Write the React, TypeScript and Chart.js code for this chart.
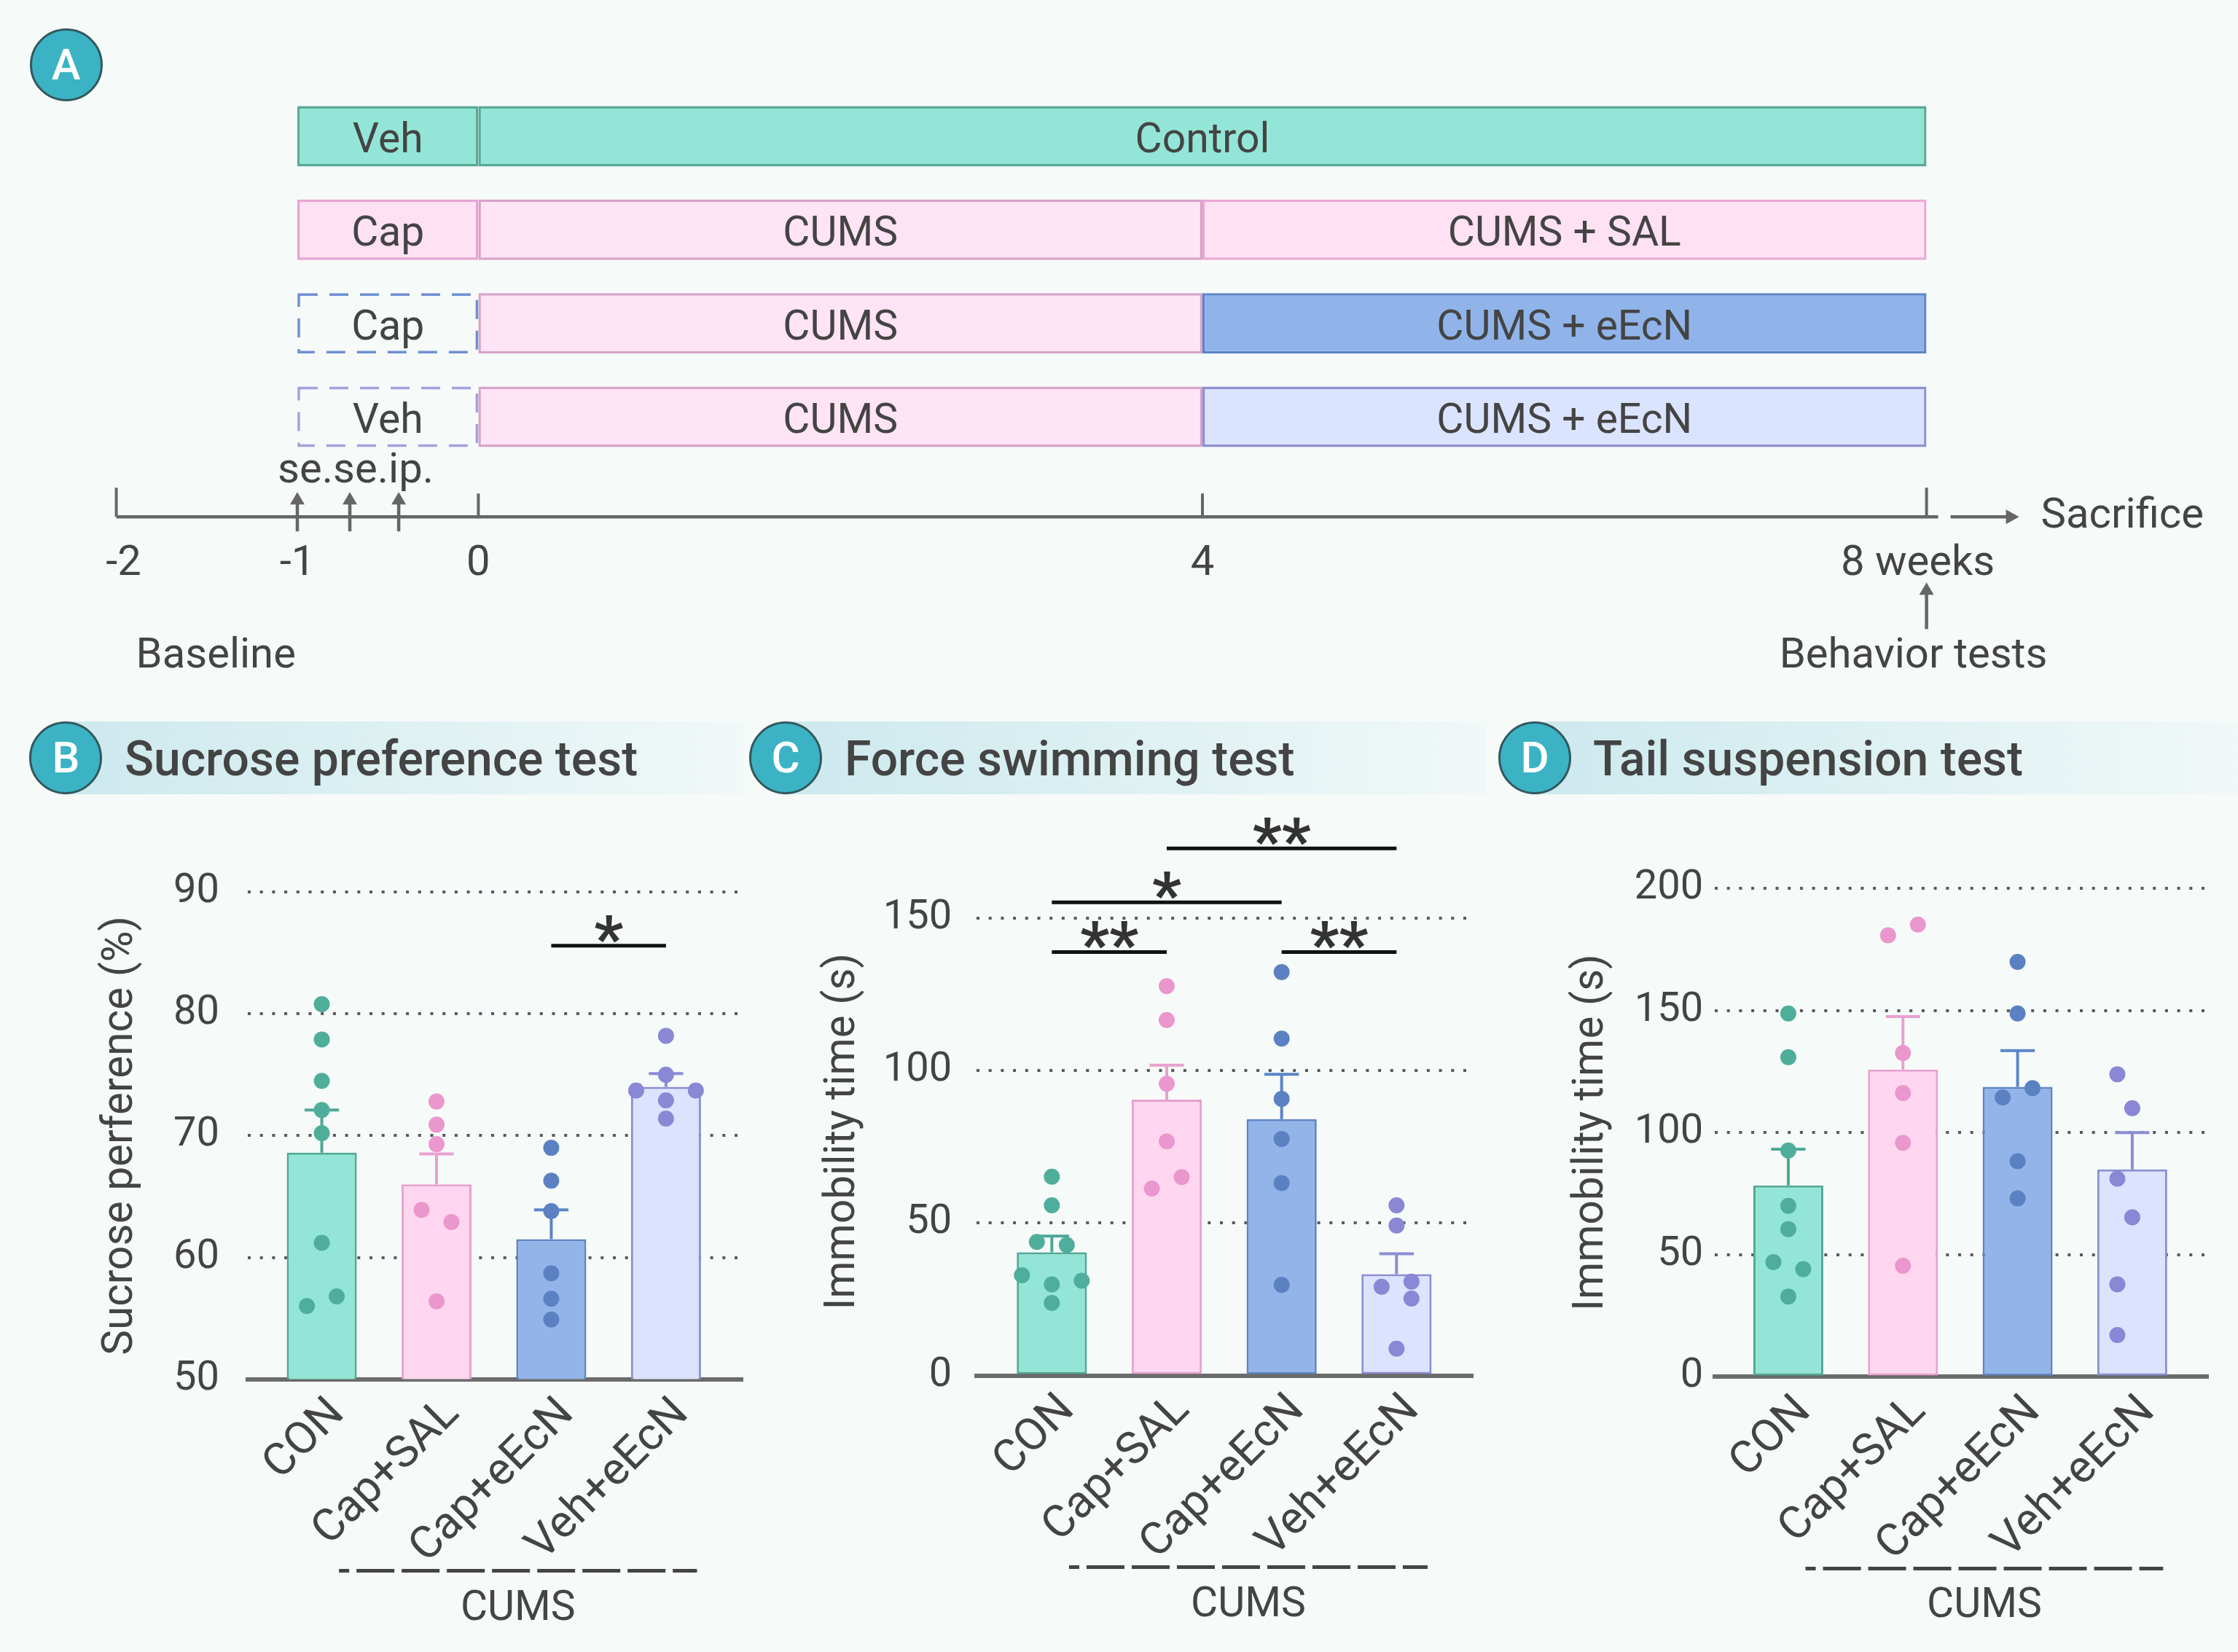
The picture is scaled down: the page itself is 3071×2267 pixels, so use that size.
import React, { useEffect, useRef } from 'react';
import { Chart, registerables } from 'chart.js';

Chart.register(...registerables);

const FONT = 'Roboto';
const TEXT = '#444444';
const BG = '#f6faf9';

// ---------------- Panel A (timeline) data ----------------
const rowNames = ['Control', 'Cap+SAL', 'Cap+eEcN', 'Veh+eEcN'];
const preWeeks = [[-1, 0], [-1, 0], [-1, 0], [-1, 0]];
const preLabels = ['Veh', 'Cap', 'Cap', 'Veh'];
const preDashed = [false, false, true, true];
const phase1Weeks = [[0, 8], [0, 4], [0, 4], [0, 4]];
const phase1Labels = ['Control', 'CUMS', 'CUMS', 'CUMS'];
const phase2Weeks = [null, [4, 8], [4, 8], [4, 8]];
const phase2Labels = ['', 'CUMS + SAL', 'CUMS + eEcN', 'CUMS + eEcN'];
const timelineTicks = [-2, -1, 0, 4, 8];
const timelineTickLabels = ['-2', '-1', '0', '4', '8 weeks'];
const timelineTickMarks = [-2, 0, 4, 8];
const injectionWeeks = [-1, -0.71, -0.44];
const weekMin = -2;
const weekMax = 8;

// ---------------- Panels B-D data ----------------
const groups = ['CON', 'Cap+SAL', 'Cap+eEcN', 'Veh+eEcN'];

// B: Sucrose preference
const spMean = [68.6, 66.0, 61.5, 74.0];
const spSem = [3.5, 2.5, 2.4, 1.1];
const spCON = [80.8, 77.9, 74.5, 72.1, 70.2, 61.2, 56.0, 56.8];
const spCapSAL = [72.8, 70.9, 69.3, 63.9, 62.9, 56.4];
const spCapEcN = [69.0, 66.3, 63.8, 58.7, 56.6, 54.9];
const spVehEcN = [78.2, 75.0, 73.7, 73.7, 72.9, 71.4];
const spSlots = [[0, 0, 0, 0, 0, 0, -1, 1], [0, 0, 0, -1, 1, 0], [0, 0, 0, 0, 0, 0], [0, 0, -2, 2, 0, 0]];
const spTicks = [50, 60, 70, 80, 90];

// C: Forced swimming
const fstMean = [40.4, 90.5, 84.1, 33.2];
const fstSem = [5.3, 11.3, 14.7, 6.7];
const fstCON = [65.2, 55.8, 43.8, 42.8, 32.9, 31.1, 29.9, 23.8];
const fstCapSAL = [127.7, 116.6, 95.7, 76.8, 65.1, 61.3];
const fstCapEcN = [132.3, 110.5, 90.7, 77.6, 63.1, 29.7];
const fstVehEcN = [55.8, 49.2, 30.8, 29.1, 25.2, 8.8];
const fstSlots = [[0, 0, -1, 1, -2, 2, 0, 0], [0, 0, 0, 0, 1, -1], [0, 0, 0, 0, 0, 0], [0, 0, 1, -1, 1, 0]];
const fstTicks = [0, 50, 100, 150];

// D: Tail suspension
const tstMean = [78.4, 125.8, 118.7, 84.9];
const tstSem = [14.8, 21.7, 14.9, 15.1];
const tstCON = [148.8, 130.9, 92.7, 70.0, 60.5, 47.0, 44.1, 32.9];
const tstCapSAL = [185.2, 180.8, 132.6, 116.2, 95.8, 45.5];
const tstCapEcN = [169.9, 148.8, 118.2, 114.4, 88.3, 73.1];
const tstVehEcN = [123.9, 110.0, 81.1, 65.3, 37.9, 17.1];
const tstSlots = [[0, 0, 0, 0, 0, -1, 1, 0], [1, -1, 0, 0, 0, 0], [0, 0, 1, -1, 0, 0], [-1, 0, -1, 0, -1, -1]];
const tstTicks = [0, 50, 100, 150, 200];

// significance brackets: group index from, to, value height, label
const spBrackets = [{ from: 2, to: 3, y: 85.6, label: '*' }];
const fstBrackets = [
  { from: 0, to: 1, y: 138.9, label: '**' },
  { from: 0, to: 2, y: 155.2, label: '*' },
  { from: 1, to: 3, y: 172.9, label: '**' },
  { from: 2, to: 3, y: 138.9, label: '**' },
];
const tstBrackets: { from: number; to: number; y: number; label: string }[] = [];

// ---------------- styles ----------------
const barFill = ['#93e6d7', '#ffd6ef', '#92b4e9', '#dbe3fe'];
const barBorder = ['#4fa896', '#e8a1cf', '#5b85c7', '#8c8dd4'];
const dotColor = ['#4fae9b', '#ea97cd', '#5b81c3', '#8a87d4'];
const SLOT = 0.13;
const CAP_HALF = 0.15;

const preFill = ['#93e6d7', '#ffe1f4', 'rgba(0,0,0,0)', 'rgba(0,0,0,0)'];
const preBorder = ['#5aa898', '#e9a2d3', '#6f90d2', '#a5a0df'];
const p1Fill = ['#93e6d7', '#ffe4f5', '#ffe4f5', '#ffe4f5'];
const p1Border = ['#5aa898', '#d7a3c9', '#d7a3c9', '#d7a3c9'];
const p2Fill = ['#93e6d7', '#ffe1f4', '#90b4ea', '#dbe4fe'];
const p2Border = ['#5aa898', '#eda7d6', '#5b84c8', '#8e90d2'];

type Box = { left: number; top: number; width: number; height: number };
type Area = { left: number; top: number; right: number; bottom: number };

function ChartCanvas({ box, build }: { box: Box; build: () => any }) {
  const ref = useRef<HTMLCanvasElement>(null);
  useEffect(() => {
    if (!ref.current) return;
    const chart = new Chart(ref.current, build());
    let alive = true;
    const fonts: any = (document as any).fonts;
    if (fonts && fonts.ready) {
      fonts.ready.then(() => {
        if (alive) chart.update();
      });
    }
    return () => {
      alive = false;
      chart.destroy();
    };
  }, []);
  return (
    <canvas
      ref={ref}
      width={box.width}
      height={box.height}
      style={{ position: 'absolute', left: box.left, top: box.top, width: box.width, height: box.height }}
    />
  );
}

// ---------------- Timeline ----------------
const tlBox: Box = { left: 0, top: 0, width: 3071, height: 960 };
const tlArea: Area = { left: 159.6, top: 122.8, right: 2643.6, bottom: 636.2 };

function arrowUp(ctx: CanvasRenderingContext2D, x: number, yTip: number, yTail: number) {
  ctx.beginPath();
  ctx.moveTo(x, yTail);
  ctx.lineTo(x, yTip + 14);
  ctx.stroke();
  ctx.beginPath();
  ctx.moveTo(x, yTip);
  ctx.lineTo(x - 10, yTip + 17);
  ctx.lineTo(x + 10, yTip + 17);
  ctx.closePath();
  ctx.fill();
}

function buildTimeline() {
  const labelsByDs = [preLabels, phase1Labels, phase2Labels];
  const plugin = {
    id: 'timelineDecor',
    afterDatasetsDraw(chart: any) {
      const ctx: CanvasRenderingContext2D = chart.ctx;
      ctx.save();
      // dashed boxes
      const preMeta = chart.getDatasetMeta(0);
      preMeta.data.forEach((el: any, i: number) => {
        if (!preDashed[i]) return;
        const l = Math.min(el.x, el.base);
        const r = Math.max(el.x, el.base);
        const t = el.y - el.height / 2;
        ctx.setLineDash([26, 16]);
        ctx.lineWidth = 3.5;
        ctx.strokeStyle = preBorder[i];
        ctx.strokeRect(l + 2, t + 2, r - l - 4, el.height - 4);
      });
      ctx.setLineDash([]);
      // texts
      ctx.font = `57px ${FONT}`;
      ctx.fillStyle = TEXT;
      ctx.textAlign = 'center';
      ctx.textBaseline = 'alphabetic';
      for (let d = 0; d < 3; d++) {
        const meta = chart.getDatasetMeta(d);
        const ds = chart.data.datasets[d];
        meta.data.forEach((el: any, i: number) => {
          if (!ds.data[i] || !labelsByDs[d][i]) return;
          const cx = (el.x + el.base) / 2;
          ctx.fillText(labelsByDs[d][i], cx, el.y + 22);
        });
      }
      // axis
      const xs = chart.scales.x;
      const axisY = chart.chartArea.bottom + 73;
      ctx.strokeStyle = '#666666';
      ctx.fillStyle = '#666666';
      ctx.lineWidth = 4.5;
      ctx.beginPath();
      ctx.moveTo(xs.getPixelForValue(weekMin), axisY);
      ctx.lineTo(xs.getPixelForValue(weekMax) + 16, axisY);
      ctx.stroke();
      ctx.lineWidth = 4;
      timelineTickMarks.forEach((w) => {
        const x = xs.getPixelForValue(w);
        ctx.beginPath();
        ctx.moveTo(x, axisY);
        ctx.lineTo(x, axisY - (w === weekMin || w === weekMax ? 40 : 32));
        ctx.stroke();
      });
      ctx.lineWidth = 4.5;
      injectionWeeks.forEach((w) => arrowUp(ctx, xs.getPixelForValue(w), axisY - 34, axisY + 20));
      // behavior tests arrow
      arrowUp(ctx, xs.getPixelForValue(weekMax), axisY + 90, axisY + 154);
      // sacrifice arrow
      const sx = xs.getPixelForValue(weekMax) + 33;
      ctx.beginPath();
      ctx.moveTo(sx, axisY);
      ctx.lineTo(sx + 78, axisY);
      ctx.stroke();
      ctx.beginPath();
      ctx.moveTo(sx + 94, axisY);
      ctx.lineTo(sx + 76, axisY - 10);
      ctx.lineTo(sx + 76, axisY + 10);
      ctx.closePath();
      ctx.fill();
      // labels
      ctx.fillStyle = TEXT;
      ctx.font = `58px ${FONT}`;
      ctx.textAlign = 'center';
      timelineTicks.forEach((w, i) => {
        const dx = i === 0 ? 10 : i === timelineTicks.length - 1 ? -12 : 0;
        ctx.fillText(timelineTickLabels[i], xs.getPixelForValue(w) + dx, axisY + 80);
      });
      ctx.fillText('se.se.ip.', xs.getPixelForValue(injectionWeeks[1]) + 8, axisY - 47);
      ctx.fillText('Baseline', xs.getPixelForValue(-1.45), axisY + 207);
      ctx.fillText('Behavior tests', xs.getPixelForValue(weekMax) - 18, axisY + 207);
      ctx.textAlign = 'left';
      ctx.textBaseline = 'middle';
      ctx.fillText('Sacrifice', sx + 124, axisY);
      ctx.restore();
    },
  };
  const mk = (data: any[], fill: string[], border: string[], widths: number[]) => ({
    data,
    backgroundColor: fill,
    borderColor: border,
    borderWidth: widths,
    borderSkipped: false,
    grouped: false,
    barPercentage: 0.647,
    categoryPercentage: 1,
  });
  return {
    type: 'bar',
    data: {
      labels: rowNames,
      datasets: [
        mk(preWeeks, preFill, preBorder, preDashed.map((d) => (d ? 0 : 3.5))),
        mk(phase1Weeks, p1Fill, p1Border, [3.5, 3.5, 3.5, 3.5]),
        mk(phase2Weeks, p2Fill, p2Border, [3.5, 3.5, 3.5, 3.5]),
      ],
    },
    options: {
      indexAxis: 'y',
      responsive: false,
      animation: false,
      events: [],
      layout: {
        padding: {
          left: tlArea.left - tlBox.left,
          right: tlBox.left + tlBox.width - tlArea.right,
          top: tlArea.top - tlBox.top,
          bottom: tlBox.top + tlBox.height - tlArea.bottom,
        },
      },
      plugins: { legend: { display: false }, tooltip: { enabled: false } },
      scales: {
        x: { type: 'linear', min: weekMin, max: weekMax, display: false },
        y: { type: 'category', display: false, offset: true },
      },
    },
    plugins: [plugin],
  };
}

// ---------------- Bar panels ----------------
type Spec = {
  means: number[];
  sems: number[];
  points: number[][];
  slots: number[][];
  yMin: number;
  yMax: number;
  yTicks: number[];
  yTitle: string;
  brackets: { from: number; to: number; y: number; label: string }[];
  xMin: number;
  xMax: number;
  box: Box;
  area: Area;
  titleX: number;
  tickPad: number;
};

function buildPanel(spec: Spec) {
  const { box, area } = spec;
  const plugin = {
    id: 'panelDecor',
    afterDatasetDraw(chart: any, args: any) {
      if (args.index !== 4) return;
      const ctx: CanvasRenderingContext2D = chart.ctx;
      const xs = chart.scales.x;
      const ys = chart.scales.y;
      ctx.save();
      ctx.lineWidth = 4;
      spec.means.forEach((m, i) => {
        const x = xs.getPixelForValue(i);
        const y0 = ys.getPixelForValue(m);
        const y1 = ys.getPixelForValue(m + spec.sems[i]);
        const hw = xs.getPixelForValue(i + CAP_HALF) - x;
        ctx.strokeStyle = barBorder[i];
        ctx.beginPath();
        ctx.moveTo(x, y0);
        ctx.lineTo(x, y1);
        ctx.moveTo(x - hw, y1);
        ctx.lineTo(x + hw, y1);
        ctx.stroke();
      });
      ctx.restore();
    },
    afterDraw(chart: any) {
      const ctx: CanvasRenderingContext2D = chart.ctx;
      const xs = chart.scales.x;
      const ys = chart.scales.y;
      ctx.save();
      spec.brackets.forEach((b) => {
        const x0 = xs.getPixelForValue(b.from);
        const x1 = xs.getPixelForValue(b.to);
        const y = ys.getPixelForValue(b.y);
        ctx.strokeStyle = '#111111';
        ctx.lineWidth = 5;
        ctx.beginPath();
        ctx.moveTo(x0, y);
        ctx.lineTo(x1, y);
        ctx.stroke();
        ctx.fillStyle = '#333333';
        ctx.font = `700 88px ${FONT}`;
        ctx.textAlign = 'center';
        ctx.textBaseline = 'alphabetic';
        ctx.fillText(b.label, (x0 + x1) / 2, y + 20);
      });
      // CUMS grouping line
      const bottom = chart.chartArea.bottom;
      const gx0 = xs.getPixelForValue(0.15);
      const gx1 = xs.getPixelForValue(3.27);
      ctx.strokeStyle = TEXT;
      ctx.lineWidth = 5;
      ctx.setLineDash([52, 10]);
      ctx.lineDashOffset = 38;
      ctx.beginPath();
      ctx.moveTo(gx0, bottom + 263);
      ctx.lineTo(gx1, bottom + 263);
      ctx.stroke();
      ctx.setLineDash([]);
      ctx.fillStyle = TEXT;
      ctx.font = `57px ${FONT}`;
      ctx.textAlign = 'center';
      ctx.fillText('CUMS', (gx0 + gx1) / 2, bottom + 330);
      ctx.restore();
    },
  };
  const scatterSets = spec.points.map((vals, g) => ({
    type: 'scatter',
    data: vals.map((v, k) => ({ x: g + spec.slots[g][k] * SLOT, y: v })),
    pointRadius: 11,
    pointHoverRadius: 11,
    pointBackgroundColor: dotColor[g],
    pointBorderWidth: 0,
    showLine: false,
  }));
  const barSet = {
    type: 'bar',
    data: spec.means.map((m, i) => ({ x: i, y: m })),
    backgroundColor: barFill,
    borderColor: barBorder,
    borderWidth: 3,
    borderSkipped: false,
    barPercentage: 0.61,
    categoryPercentage: 1,
  };
  const titleFont = 58.5;
  return {
    type: 'bar',
    data: { datasets: [...scatterSets, barSet] },
    options: {
      responsive: false,
      animation: false,
      events: [],
      layout: {
        padding: {
          left: 0,
          top: area.top - box.top,
          right: box.left + box.width - area.right,
          bottom: 0,
        },
      },
      plugins: { legend: { display: false }, tooltip: { enabled: false } },
      scales: {
        x: {
          type: 'linear',
          min: spec.xMin,
          max: spec.xMax,
          offset: false,
          z: 1,
          grid: { display: false, offset: false },
          border: { display: true, color: '#6b6b6b', width: 6 },
          afterBuildTicks: (s: any) => {
            s.ticks = groups.map((_, i) => ({ value: i }));
          },
          afterFit: (s: any) => {
            s.height = box.top + box.height - area.bottom;
          },
          ticks: {
            autoSkip: false,
            minRotation: 45,
            maxRotation: 45,
            padding: 4,
            labelOffset: 22,
            color: TEXT,
            font: { family: FONT, size: 62 },
            callback: (v: any) => groups[Math.round(Number(v))] ?? '',
          },
        },
        y: {
          type: 'linear',
          min: spec.yMin,
          max: spec.yMax,
          afterBuildTicks: (s: any) => {
            s.ticks = spec.yTicks.map((v) => ({ value: v }));
          },
          afterFit: (s: any) => {
            s.width = area.left - box.left;
          },
          grid: { display: true, drawTicks: false, color: '#5a5a5a', lineWidth: 4 },
          border: { display: false, dash: [4, 12.7] },
          ticks: {
            padding: spec.tickPad,
            color: TEXT,
            font: { family: FONT, size: 56 },
          },
          title: {
            display: true,
            text: spec.yTitle,
            color: TEXT,
            font: { family: FONT, size: titleFont, lineHeight: 1.2 },
            padding: { top: spec.titleX - box.left - (titleFont * 1.2) / 2, bottom: 0 },
          },
        },
      },
    },
    plugins: [plugin],
  };
}

const specB: Spec = {
  means: spMean,
  sems: spSem,
  points: [spCON, spCapSAL, spCapEcN, spVehEcN],
  slots: spSlots,
  yMin: 50,
  yMax: 90,
  yTicks: spTicks,
  yTitle: 'Sucrose perference (%)',
  brackets: spBrackets,
  xMin: -0.645,
  xMax: 3.669,
  box: { left: 0, top: 1100, width: 1040, height: 1167 },
  area: { left: 340, top: 1224.2, right: 1019.2, bottom: 1892.6 },
  titleX: 166,
  tickPad: 39,
};

const specC: Spec = {
  means: fstMean,
  sems: fstSem,
  points: [fstCON, fstCapSAL, fstCapEcN, fstVehEcN],
  slots: fstSlots,
  yMin: 0,
  yMax: 160,
  yTicks: fstTicks,
  yTitle: 'Immobility time (s)',
  brackets: fstBrackets,
  xMin: -0.654,
  xMax: 3.665,
  box: { left: 1040, top: 1100, width: 1010, height: 1167 },
  area: { left: 1340.2, top: 1218.2, right: 2021.2, bottom: 1887.5 },
  titleX: 1157,
  tickPad: 34,
};

const specD: Spec = {
  means: tstMean,
  sems: tstSem,
  points: [tstCON, tstCapSAL, tstCapEcN, tstVehEcN],
  slots: tstSlots,
  yMin: 0,
  yMax: 200,
  yTicks: tstTicks,
  yTitle: 'Immobility time (s)',
  brackets: tstBrackets,
  xMin: -0.641,
  xMax: 3.667,
  box: { left: 2050, top: 1100, width: 1021, height: 1167 },
  area: { left: 2353.1, top: 1219.1, right: 3030.8, bottom: 1889.4 },
  titleX: 2184,
  tickPad: 16,
};

// ---------------- HTML decorations ----------------
function Badge({ cx, cy, letter }: { cx: number; cy: number; letter: string }) {
  return (
    <div
      style={{
        position: 'absolute',
        left: cx - 50,
        top: cy - 50,
        width: 100,
        height: 100,
        borderRadius: '50%',
        background: '#3bb3c4',
        border: '3px solid #33585e',
        boxSizing: 'border-box',
        color: '#ffffff',
        fontFamily: FONT,
        fontWeight: 500,
        fontSize: 60,
        lineHeight: 1,
        display: 'flex',
        alignItems: 'center',
        justifyContent: 'center',
        zIndex: 2,
      }}
    >
      {letter}
    </div>
  );
}

function Header({ cx, bandRight, title, textLeft }: { cx: number; bandRight: number; title: string; textLeft: number }) {
  return (
    <>
      <div
        style={{
          position: 'absolute',
          left: cx,
          top: 990,
          width: bandRight - cx,
          height: 100,
          background: 'linear-gradient(90deg, #cde9ee 0%, #dcf0f2 45%, #f1f8f8 100%)',
          zIndex: 1,
        }}
      />
      <Badge cx={cx} cy={1040} letter={title.charAt(0)} />
      <div
        style={{
          position: 'absolute',
          left: textLeft,
          top: 1000,
          height: 82,
          display: 'flex',
          alignItems: 'center',
          fontFamily: FONT,
          fontWeight: 500,
          fontSize: 66,
          color: TEXT,
          whiteSpace: 'nowrap',
          zIndex: 2,
        }}
      >
        {title.slice(2)}
      </div>
    </>
  );
}

export default function App() {
  useEffect(() => {
    document.body.style.margin = '0';
    document.body.style.background = BG;
  }, []);
  return (
    <div style={{ position: 'relative', width: 3071, height: 2267, background: BG, overflow: 'hidden' }}>
      <Badge cx={90.6} cy={89} letter="A" />
      <Header cx={90.4} bandRight={1020} title="B Sucrose preference test" textLeft={171} />
      <Header cx={1078} bandRight={2040} title="C Force swimming test" textLeft={1159} />
      <Header cx={2106} bandRight={3071} title="D Tail suspension test" textLeft={2186} />
      <div style={{ position: 'absolute', left: 0, top: 0, zIndex: 3 }}>
        <ChartCanvas box={tlBox} build={buildTimeline} />
        <ChartCanvas box={specB.box} build={() => buildPanel(specB)} />
        <ChartCanvas box={specC.box} build={() => buildPanel(specC)} />
        <ChartCanvas box={specD.box} build={() => buildPanel(specD)} />
      </div>
    </div>
  );
}
